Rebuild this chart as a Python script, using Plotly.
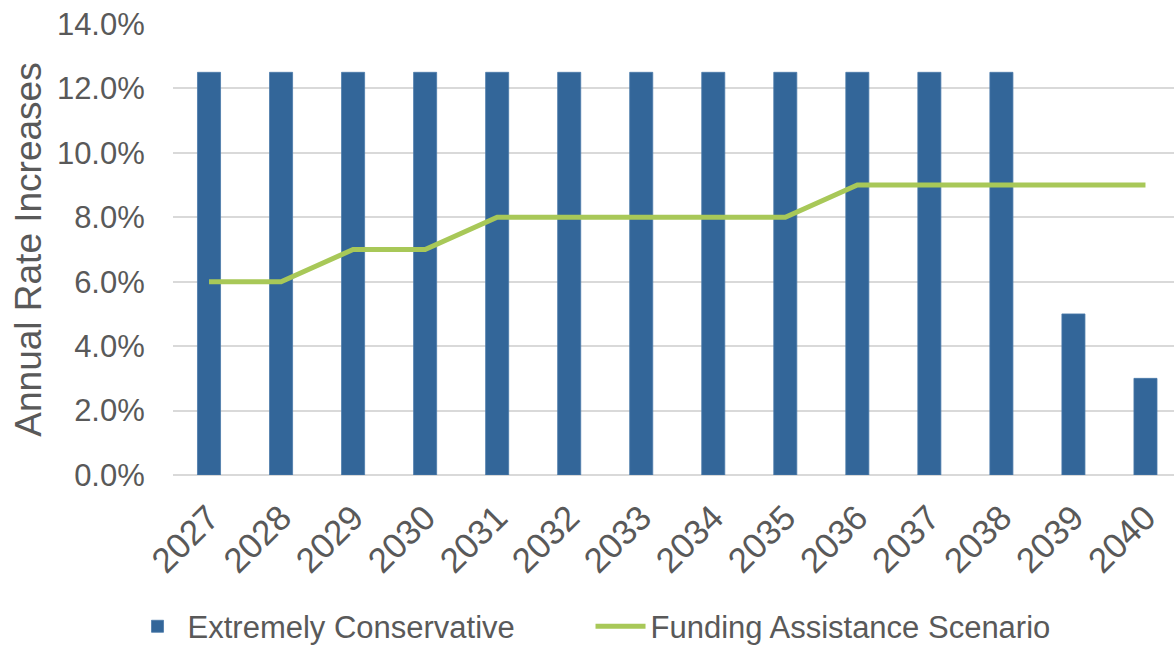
import plotly.graph_objects as go

years = [str(y) for y in range(2027, 2041)]
extremely_conservative = [0.125] * 12 + [0.05, 0.03]
funding_assistance = [0.06, 0.06, 0.07, 0.07, 0.08, 0.08, 0.08, 0.08, 0.08,
                      0.09, 0.09, 0.09, 0.09, 0.09]

FONT = "Liberation Sans, Arial, sans-serif"
GREY = "#595959"

fig = go.Figure()
fig.add_trace(go.Bar(
    x=years, y=extremely_conservative, name="Extremely Conservative",
    marker=dict(color="#336699", line=dict(color="#4A7AAA", width=0.8)),
    width=0.32,
))
fig.add_trace(go.Scatter(
    x=years, y=funding_assistance, name="Funding Assistance Scenario",
    mode="lines", line=dict(color="#A8C858", width=5),
))

fig.update_layout(
    width=1174, height=646,
    margin=dict(l=173, r=0, t=24, b=171, autoexpand=False),
    paper_bgcolor="white", plot_bgcolor="white",
    font=dict(family=FONT, color=GREY),
    showlegend=True,
    legend=dict(orientation="h", x=0.503, xanchor="center", y=0.03, yanchor="middle",
                xref="container", yref="container", font=dict(size=31, color=GREY),
                itemwidth=50, traceorder="normal", entrywidth=398),
    xaxis=dict(type="category", range=[-0.5, 13.396], tickangle=-45,
               tickfont=dict(size=35, color=GREY), showgrid=False,
               ticks="outside", ticklen=7, tickcolor="rgba(0,0,0,0)",
               showline=False, zeroline=False, fixedrange=True, automargin=False),
    yaxis=dict(range=[0, 0.14], dtick=0.02, tickformat=".1%",
               tickfont=dict(size=31, color=GREY), gridcolor="#D9D9D9", gridwidth=2,
               ticks="outside", ticklen=21, tickcolor="rgba(0,0,0,0)",
               zeroline=True, zerolinecolor="#D9D9D9", zerolinewidth=2,
               title=dict(text="Annual Rate Increases", font=dict(size=37, color=GREY),
                          standoff=3),
               automargin=False),
)

fig.write_html("out.html")
